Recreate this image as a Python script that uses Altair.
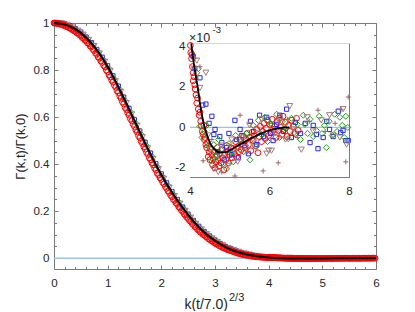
import altair as alt
import pandas as pd

FONT = "Liberation Sans"
TXT = "#262626"
AXC = "#7a7a7a"
W, H = 322, 246
IX0, IX1 = 136, 295      # inset x range inside plot area
IYB, IYT = 154.0, 20.4   # inset y range inside plot area

# ---------------- main panel data ----------------
LINE_X = [0, 0.25, 0.5, 0.75, 1, 1.25, 1.5, 1.75, 2, 2.25, 2.5, 2.75, 3, 3.25,
          3.5, 3.75, 4, 4.25, 4.5, 5, 5.5, 6]
LINE_Y = [1.000, 0.990, 0.958, 0.900, 0.815, 0.705, 0.585, 0.465, 0.355, 0.262,
          0.184, 0.120, 0.074, 0.041, 0.021, 0.009, 0.003, 0.000, -0.001, -0.001,
          0.000, 0.000]

RED_A_X = [round(0.05 * i, 3) for i in range(81)]
RED_A_Y = [1.000, 0.999, 0.997, 0.994, 0.990, 0.985, 0.979, 0.972, 0.965, 0.957,
           0.947, 0.936, 0.925, 0.912, 0.899, 0.883, 0.867, 0.850, 0.832, 0.814,
           0.793, 0.771, 0.749, 0.727, 0.704, 0.680, 0.656, 0.632, 0.608, 0.584,
           0.560, 0.536, 0.512, 0.488, 0.464, 0.442, 0.419, 0.397, 0.375, 0.354,
           0.335, 0.316, 0.297, 0.279, 0.261, 0.245, 0.229, 0.213, 0.198, 0.183,
           0.169, 0.156, 0.143, 0.131, 0.119, 0.109, 0.099, 0.090, 0.081, 0.073,
           0.066, 0.059, 0.052, 0.046, 0.041, 0.036, 0.032, 0.028, 0.024, 0.021,
           0.018, 0.015, 0.013, 0.011, 0.009, 0.007, 0.006, 0.005, 0.004, 0.003,
           0.002]
RED_B_X = [round(0.025 + 0.05 * i, 3) for i in range(80)]
RED_B_Y = [0.999, 0.997, 0.994, 0.990, 0.985, 0.980, 0.973, 0.966, 0.958, 0.949,
           0.938, 0.927, 0.915, 0.902, 0.888, 0.872, 0.855, 0.838, 0.820, 0.800,
           0.779, 0.757, 0.735, 0.712, 0.689, 0.665, 0.641, 0.617, 0.593, 0.569,
           0.545, 0.521, 0.497, 0.473, 0.450, 0.427, 0.405, 0.383, 0.361, 0.342,
           0.323, 0.304, 0.285, 0.267, 0.250, 0.234, 0.218, 0.203, 0.188, 0.174,
           0.160, 0.147, 0.134, 0.122, 0.111, 0.101, 0.092, 0.083, 0.075, 0.067,
           0.060, 0.053, 0.047, 0.042, 0.037, 0.033, 0.029, 0.025, 0.021, 0.018,
           0.015, 0.013, 0.011, 0.009, 0.007, 0.006, 0.005, 0.004, 0.003, 0.002]

BLUE_MAIN_X = [round(0.1 * i, 3) for i in range(41)]
BLUE_MAIN_Y = [1.000, 1.001, 0.997, 0.989, 0.976, 0.962, 0.941, 0.917, 0.888, 0.855,
               0.819, 0.776, 0.732, 0.685, 0.637, 0.589, 0.541, 0.493, 0.447, 0.402,
               0.359, 0.321, 0.284, 0.250, 0.218, 0.188, 0.161, 0.136, 0.114, 0.095,
               0.078, 0.063, 0.050, 0.040, 0.031, 0.023, 0.018, 0.013, 0.009, 0.006,
               0.004]
GREEN_MAIN_X = [round(0.025 + 0.1 * i, 3) for i in range(40)]
GREEN_MAIN_Y = [1.001, 1.000, 0.994, 0.984, 0.971, 0.955, 0.934, 0.909, 0.878, 0.844,
                0.807, 0.763, 0.719, 0.671, 0.623, 0.575, 0.527, 0.479, 0.434, 0.389,
                0.348, 0.310, 0.273, 0.240, 0.209, 0.179, 0.153, 0.128, 0.107, 0.089,
                0.073, 0.059, 0.046, 0.037, 0.029, 0.022, 0.017, 0.012, 0.009, 0.006]
TRI_MAIN_X = [round(0.05 + 0.1 * i, 3) for i in range(40)]
TRI_MAIN_Y = [1.001, 1.000, 0.993, 0.982, 0.968, 0.951, 0.929, 0.903, 0.871, 0.836,
              0.797, 0.753, 0.708, 0.660, 0.612, 0.564, 0.516, 0.468, 0.423, 0.379,
              0.339, 0.301, 0.265, 0.233, 0.202, 0.173, 0.147, 0.123, 0.103, 0.085,
              0.070, 0.056, 0.044, 0.036, 0.028, 0.021, 0.016, 0.011, 0.008, 0.005]
PLUS_MAIN_X = [round(0.075 + 0.1 * i, 3) for i in range(40)]
PLUS_MAIN_Y = [1.001, 0.998, 0.990, 0.978, 0.964, 0.945, 0.922, 0.895, 0.862, 0.827,
               0.786, 0.742, 0.696, 0.648, 0.600, 0.552, 0.504, 0.457, 0.412, 0.368,
               0.329, 0.292, 0.257, 0.225, 0.194, 0.166, 0.141, 0.118, 0.098, 0.081,
               0.066, 0.053, 0.042, 0.034, 0.026, 0.020, 0.015, 0.011, 0.008, 0.006]

# ---------------- inset data (units of 1e-3) ----------------
IN_LINE_X = [4.03, 4.1, 4.2, 4.25, 4.3, 4.35, 4.4, 4.5, 4.6, 4.75, 4.9, 5.0, 5.25,
             5.5, 5.75, 6.0, 6.25, 6.5]
IN_LINE_Y = [4.15, 3.1, 1.9, 1.2, 0.6, 0.15, -0.2, -0.75, -1.05, -1.23, -1.22, -1.13,
             -0.85, -0.58, -0.33, -0.14, -0.04, 0.0]

RED_IN = [(4.01, 4.05), (4.02, 3.7), (4.04, 3.4), (4.05, 3.6), (4.06, 3.0), (4.08, 2.7),
          (4.08, 2.3), (4.10, 2.5), (4.12, 2.1), (4.13, 1.9), (4.15, 1.6), (4.17, 1.2),
          (4.19, 1.45), (4.21, 0.9), (4.23, 0.6), (4.25, 0.75), (4.27, 0.3), (4.29, 0.08),
          (4.31, -0.2), (4.33, -0.35), (4.35, 0.1), (4.36, -0.6), (4.38, -0.5), (4.40, -0.85),
          (4.42, -1.0), (4.44, -0.75), (4.46, -1.45), (4.48, -1.2), (4.50, -1.6), (4.52, -1.05),
          (4.55, -1.35), (4.57, -1.85), (4.59, -1.55), (4.61, -1.2), (4.63, -2.0), (4.65, -1.7),
          (4.67, -1.4), (4.69, -1.0), (4.71, -1.6), (4.73, -1.9), (4.75, -1.3), (4.78, -1.75),
          (4.80, -1.1), (4.82, -1.5), (4.85, -2.1), (4.87, -1.3), (4.90, -1.6), (4.92, -0.9),
          (4.95, -1.2), (4.97, -1.75), (5.00, -1.35), (5.03, -1.0), (5.06, -1.5), (5.09, -1.05),
          (5.12, -1.3), (5.15, -0.7), (5.17, -1.45), (5.20, -0.95), (5.23, -1.2), (5.26, -0.6),
          (5.29, -1.1), (5.32, -0.8), (5.35, -0.45), (5.38, -1.0), (5.41, -0.6), (5.44, -0.3),
          (5.47, -0.85), (5.50, -0.5), (5.53, -1.15), (5.56, -0.25), (5.59, -0.65), (5.62, -0.4),
          (5.65, -0.9), (5.68, -0.1), (5.71, -1.25), (5.74, -0.45), (5.77, 0.05), (5.80, -0.7),
          (5.83, -0.2), (5.86, 0.2), (5.89, -0.55), (5.92, -0.05), (5.95, 0.35), (5.98, -0.4),
          (6.01, 0.15), (6.04, -0.25), (6.07, 0.4), (6.10, -0.1), (6.13, 0.05), (6.16, -0.5),
          (6.19, 0.3), (6.22, -0.15), (6.25, 0.45), (6.28, 0.0), (6.31, -0.35), (6.34, 0.55),
          (6.37, -0.1), (6.40, 0.25), (6.44, -0.45), (6.48, 0.1), (6.52, -0.2), (6.56, 0.35),
          (6.60, 0.05), (6.64, -0.3), (6.68, 0.45), (6.72, -0.15)]

BLUE_IN = [(4.08, 3.5), (4.12, 2.9), (4.25, 2.45), (4.32, 1.1), (4.40, 1.15), (4.48, 0.2),
           (4.55, 0.55), (4.60, -0.35), (4.63, -0.1), (4.70, -1.2), (4.75, -0.45), (4.80, -0.75),
           (4.86, -1.6), (4.92, -1.0), (4.98, -0.3), (5.05, -1.35), (5.13, 0.35), (5.17, -0.6),
           (5.22, -1.5), (5.26, -0.1), (5.30, -0.4), (5.38, -0.9), (5.47, -1.3), (5.52, 0.3),
           (5.60, -0.2), (5.68, -0.85), (5.75, 0.6), (5.85, -0.45), (5.93, 0.5), (6.02, -0.3),
           (6.09, -0.65), (6.18, 0.15), (6.26, 0.6), (6.35, -0.2), (6.43, 0.9), (6.55, -0.5),
           (6.65, 0.25), (6.78, -0.3), (6.90, 0.2), (7.02, -0.75), (7.10, 0.1), (7.18, -0.35),
           (7.22, -1.05), (7.35, -0.5), (7.44, 0.3), (7.51, -0.1), (7.60, -0.45), (7.73, 0.8),
           (7.79, -0.25), (7.85, -0.15), (7.92, -0.65), (7.98, -0.65)]

GREEN_IN = [(4.17, 2.7), (4.21, 2.9), (4.25, 0.05), (4.30, -0.5), (4.36, -0.2), (4.42, 0.1),
            (4.46, -0.9), (4.52, -1.25), (4.55, -1.65), (4.60, -0.85), (4.66, -1.4), (4.72, -0.6),
            (4.78, -1.1), (4.84, -1.8), (4.92, -2.05), (4.98, -0.8), (5.04, -1.25), (5.09, -1.7),
            (5.15, -0.4), (5.20, -1.0), (5.28, -0.7), (5.35, -1.2), (5.42, -0.3), (5.51, -1.6),
            (5.55, -0.6), (5.59, 0.1), (5.66, -0.95), (5.72, 0.35), (5.80, -0.35), (5.88, 0.5),
            (5.95, -0.7), (6.03, 0.2), (6.10, -0.2), (6.18, 0.65), (6.25, -0.5), (6.32, 0.3),
            (6.40, -0.05), (6.47, -0.55), (6.55, 0.45), (6.62, -0.25), (6.70, 0.15), (6.78, -0.6),
            (6.85, 0.6), (6.89, 0.15), (6.96, -0.3), (7.02, 0.4), (7.10, -0.45), (7.18, -0.15),
            (7.25, 0.55), (7.32, -0.3), (7.38, 0.1), (7.43, -1.0), (7.50, 0.3), (7.58, -0.4),
            (7.64, 0.65), (7.70, -0.2), (7.77, 0.5), (7.83, 0.1), (7.88, -0.5), (7.92, 0.55),
            (7.97, 0.0)]

TRI_IN = [(4.10, 2.9), (4.17, 3.3), (4.25, 1.95), (4.40, 2.7), (4.45, -0.4), (4.52, -1.1),
          (4.59, -2.05), (4.66, -1.6), (4.71, -2.2), (4.78, -0.9), (4.85, -1.35), (4.95, -1.9),
          (5.05, -0.6), (5.12, -1.2), (5.20, -1.7), (5.30, -0.5), (5.40, -1.0), (5.50, 0.1),
          (5.60, -0.65), (5.70, -0.3), (5.80, 0.4), (5.93, -1.3), (5.98, -1.15), (6.05, -1.15),
          (6.15, -0.3), (6.25, 0.3), (6.40, -0.6), (6.51, 1.05), (6.60, -0.1), (6.80, -1.1),
          (6.95, 0.5), (7.10, -0.2), (7.30, 0.35), (7.51, 0.6), (7.60, -0.4), (7.77, -0.5),
          (7.85, 0.9), (7.94, -0.85)]

PLUS_IN = [(4.12, 3.4), (4.25, 3.0), (4.33, -1.65), (4.55, -0.6), (4.80, -2.2), (5.00, -0.9),
           (5.13, -2.4), (5.26, 0.6), (5.45, -1.2), (5.84, -2.15), (6.00, 0.2), (6.22, -1.75),
           (6.45, 0.4), (6.70, -0.5), (7.00, 0.3), (7.22, 0.85), (7.40, -0.2), (7.65, 0.2),
           (7.80, 0.9), (7.92, -1.7), (7.98, 1.5)]

# tick positions
MAIN_XT = [round(0.2 * i, 1) for i in range(31)]
MAIN_YT = [round(0.05 * i, 2) for i in range(21)]
IN_XT = [4, 6, 8]
IN_YT = [round(-2 + 0.5 * i, 1) for i in range(13)]

COL = {"red": "#ff0000", "blue": "#2424ff", "green": "#1c9c1c",
       "tri": "#a37a7a", "plus": "#9c6666", "zero": "#9cc4e0"}
PLUS_PATH = "M-1,0L1,0M0,-1L0,1"


def main_df(gx, gy, inset=()):
    xs = list(gx) + [p[0] for p in inset if p[0] <= 6]
    ys = list(gy) + [p[1] * 1e-3 for p in inset if p[0] <= 6]
    return pd.DataFrame({"x": xs, "y": ys})


def inset_df(inset):
    return pd.DataFrame({"x": [p[0] for p in inset], "y": [p[1] for p in inset]})


def tsize(test, big, small):
    return {"condition": {"test": test, "value": big}, "value": small}


MXS = alt.Scale(domain=[0, 6], nice=False, zero=False)
MYS = alt.Scale(domain=[-0.046, 1], nice=False, zero=False)
IXS = alt.Scale(domain=[4, 8], range=[IX0, IX1], nice=False, zero=False)
IYS = alt.Scale(domain=[-2.45, 4.15], range=[IYB, IYT], nice=False, zero=False)

LBL = "'' + datum.value"
T_MX = "abs(datum.value - round(datum.value)) < 0.001"
T_MY = "abs(datum.value * 5 - round(datum.value * 5)) < 0.001"
T_IY = "abs(datum.value / 2 - round(datum.value / 2)) < 0.001"

# main axes
MX_LAB = alt.Axis(orient="bottom", values=[0, 1, 2, 3, 4, 5, 6], ticks=False,
                  labelPadding=8, labelExpr=LBL, title=None)
MX_IN = alt.Axis(orient="top", offset=-H, values=MAIN_XT, labels=False, domain=False,
                 title=None, tickSize=tsize(T_MX, 4, 2.5))
MX_TOP = alt.Axis(orient="bottom", offset=-H, values=MAIN_XT, labels=False,
                  title=None, tickSize=tsize(T_MX, 4, 2.5))
MY_LAB = alt.Axis(orient="left", values=[0, 0.2, 0.4, 0.6, 0.8, 1], ticks=False,
                  labelPadding=5, labelExpr=LBL, title="Γ(k,t)/Γ(k,0)", titlePadding=5)
MY_IN = alt.Axis(orient="right", offset=-W, values=MAIN_YT, labels=False, domain=False,
                 title=None, tickSize=tsize(T_MY, 4, 2.5))
MY_RIGHT = alt.Axis(orient="left", offset=-W, values=MAIN_YT, labels=False,
                    title=None, tickSize=tsize(T_MY, 4, 2.5))

# inset axes
IX_LAB = alt.Axis(orient="bottom", offset=IYB - H, values=IN_XT, ticks=False,
                  labelPadding=8, labelExpr=LBL, title=None)
IX_IN = alt.Axis(orient="top", offset=-IYB, values=IN_XT, labels=False, domain=False,
                 title=None, tickSize=3.5)
IX_TOP = alt.Axis(orient="bottom", offset=IYT - H, values=IN_XT, labels=False,
                  title=None, tickSize=3.5)
IY_LAB = alt.Axis(orient="left", offset=-IX0, values=[-2, 0, 2, 4], ticks=False,
                  labelPadding=5, labelExpr=LBL, title=None)
IY_IN = alt.Axis(orient="right", offset=IX0 - W, values=IN_YT, labels=False, domain=False,
                 title=None, tickSize=tsize(T_IY, 3.5, 2))
IY_RIGHT = alt.Axis(orient="left", offset=-IX1, values=IN_YT, labels=False,
                    title=None, tickSize=tsize(T_IY, 3.5, 2))


def pts(df, shape, color, size, xs, ys, xa=None, ya=None):
    return alt.Chart(df).mark_point(shape=shape, filled=False, size=size, color=color,
                                    strokeWidth=1, opacity=1).encode(
        x=alt.X("x:Q", scale=xs, axis=xa), y=alt.Y("y:Q", scale=ys, axis=ya))


def line(df, color, width, xs, ys):
    return alt.Chart(df).mark_line(color=color, strokeWidth=width, interpolate="monotone").encode(
        x=alt.X("x:Q", scale=xs, axis=None), y=alt.Y("y:Q", scale=ys, axis=None))


zero_main = pd.DataFrame({"x": [0, 6], "y": [0, 0]})
zero_in = pd.DataFrame({"x": [4, 8], "y": [0, 0]})

main = alt.layer(
    line(zero_main, COL["zero"], 1.5, MXS, MYS),
    pts(main_df(BLUE_MAIN_X, BLUE_MAIN_Y, BLUE_IN), "square", COL["blue"], 16, MXS, MYS, MX_IN, MY_IN),
    pts(main_df(GREEN_MAIN_X, GREEN_MAIN_Y, GREEN_IN), "diamond", COL["green"], 30, MXS, MYS, MX_TOP, MY_RIGHT),
    pts(main_df(TRI_MAIN_X, TRI_MAIN_Y, TRI_IN), "triangle-down", COL["tri"], 30, MXS, MYS),
    pts(main_df(PLUS_MAIN_X, PLUS_MAIN_Y, PLUS_IN), PLUS_PATH, COL["plus"], 22, MXS, MYS),
    pts(main_df(RED_A_X, RED_A_Y, RED_IN), "circle", COL["red"], 34, MXS, MYS, MX_LAB, MY_LAB),
    pts(main_df(RED_B_X, RED_B_Y), "circle", COL["red"], 34, MXS, MYS),
    line(pd.DataFrame({"x": LINE_X, "y": LINE_Y}), "black", 2, MXS, MYS),
).resolve_axis(x="independent", y="independent")

frame = alt.Chart(pd.DataFrame({"x": [4], "x2": [8], "y": [-2.45], "y2": [4.15]})).mark_rect(
    fill="white").encode(x=alt.X("x:Q", scale=IXS, axis=None), x2="x2:Q",
                         y=alt.Y("y:Q", scale=IYS, axis=None), y2="y2:Q")

inset = alt.layer(
    frame,
    line(zero_in, COL["zero"], 1.2, IXS, IYS),
    pts(inset_df(RED_IN), "circle", COL["red"], 34, IXS, IYS, IX_LAB, IY_LAB),
    pts(inset_df(BLUE_IN), "square", COL["blue"], 18, IXS, IYS, IX_IN, IY_IN),
    pts(inset_df(GREEN_IN), "diamond", COL["green"], 36, IXS, IYS, IX_TOP, IY_RIGHT),
    pts(inset_df(TRI_IN), "triangle-down", COL["tri"], 36, IXS, IYS),
    pts(inset_df(PLUS_IN), PLUS_PATH, COL["plus"], 25, IXS, IYS),
    line(pd.DataFrame({"x": IN_LINE_X, "y": IN_LINE_Y}), "black", 1.8, IXS, IYS),
).resolve_axis(x="independent", y="independent")


def label(text, x, y, size, align):
    return alt.Chart(pd.DataFrame({"t": [text]})).mark_text(
        align=align, baseline="alphabetic", font=FONT, fontSize=size, color=TXT).encode(
        x=alt.value(x), y=alt.value(y), text="t:N")


chart = alt.layer(
    main, inset,
    label("k(t/7.0)", 174, 286, 14, "right"),
    label("2/3", 175, 277.5, 11, "left"),
    label("×10", 135, 18.5, 12.5, "left"),
    label("-3", 158.5, 10, 9.5, "left"),
).resolve_scale(x="independent", y="independent").resolve_axis(
    x="independent", y="independent"
).properties(
    width=W, height=H,
    padding={"left": 46, "top": 15, "right": 20, "bottom": 42},
    autosize=alt.AutoSizeParams(type="none"),
).configure_view(stroke=None).configure_axis(
    grid=False, labelFont=FONT, labelFontSize=11.6, labelColor=TXT, labelFlush=False,
    domainColor=AXC, tickColor=AXC, domainWidth=1, tickWidth=1,
    titleFont=FONT, titleFontSize=13, titleFontWeight="normal", titleColor=TXT,
)

chart.save("out.html", embed_options={"renderer": "svg", "actions": False})
